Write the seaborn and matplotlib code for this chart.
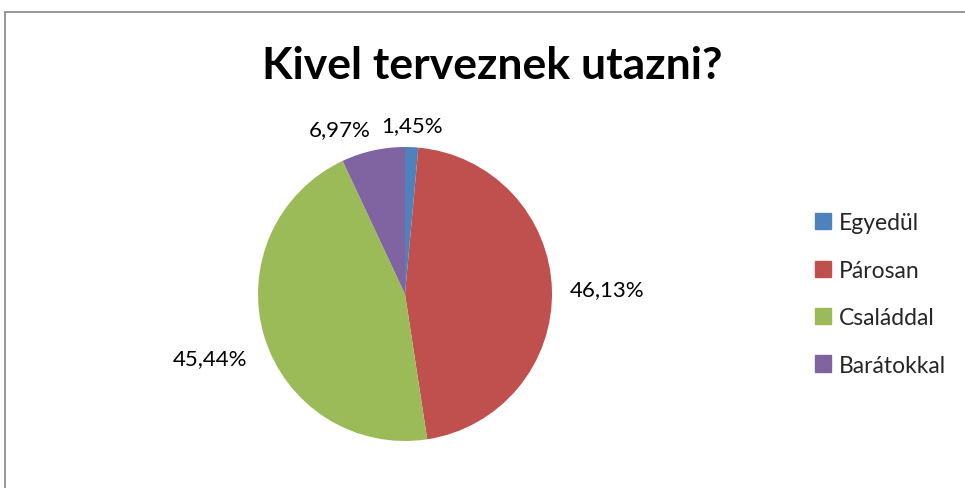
import numpy as np
import matplotlib
matplotlib.use("Agg")
import matplotlib.pyplot as plt
from matplotlib.lines import Line2D
import seaborn as sns

# adatok
categories = ['Egyedül', 'Párosan', 'Családdal', 'Barátokkal']
shares = [1.45, 46.13, 45.44, 6.97]
pct_labels = ['1,45%', '46,13%', '45,44%', '6,97%']
title = 'Kivel terveznek utazni?'

sns.set_theme(style='white')
plt.rcParams['font.family'] = ['Lato', 'DejaVu Sans']
colors = sns.color_palette(['#4F81BD', '#C0504D', '#9BBB59', '#8064A2'])

W, H = 965, 489
fig = plt.figure(figsize=(W / 100, H / 100), dpi=100)
fig.patch.set_facecolor('white')

# keret (csak bal és felső él látszik)
x0, y0 = 4.5 / W, 1 - 12.5 / H
fig.add_artist(Line2D([x0, 1.01], [y0, y0], transform=fig.transFigure, color='#868686', lw=1.2))
fig.add_artist(Line2D([x0, x0], [y0, -0.01], transform=fig.transFigure, color='#868686', lw=1.2))

# kördiagram
cx, cy, r = 405, 295, 147
ax = fig.add_axes([(cx - r) / W, (H - cy - r) / H, 2 * r / W, 2 * r / H])
wedges, _ = ax.pie(shares, colors=colors, startangle=90, counterclock=False,
                   radius=1, wedgeprops=dict(linewidth=0))
ax.set_xlim(-1, 1)
ax.set_ylim(-1, 1)
ax.set_aspect('equal')
ax.axis('off')

for w, lab in zip(wedges, pct_labels):
    mid = np.deg2rad((w.theta1 + w.theta2) / 2)
    c, s = np.cos(mid), np.sin(mid)
    d = 1.12
    if abs(c) < 0.1:
        ha = 'center'
    else:
        ha = 'left' if c > 0 else 'right'
    if s > 0.8:
        va = 'bottom'
        d = 1.08
    elif s < -0.8:
        va = 'top'
    else:
        va = 'center'
    if s < -0.2 and abs(c) > 0.5:
        s -= 0.1
    ax.text(d * c, d * s, lab, ha=ha, va=va, fontsize=16, color='black', clip_on=False)

fig.text(492 / W, 1 - 66 / H, title, ha='center', va='center',
         fontsize=32, fontweight='bold', color='black')

handles = [plt.Rectangle((0, 0), 1, 1, color=col) for col in colors]
fig.legend(handles, categories, loc='center left', bbox_to_anchor=(806 / W, 1 - 295 / H),
           frameon=False, fontsize=16.5, handlelength=0.7, handleheight=0.7,
           handletextpad=0.35, labelspacing=1.15, borderaxespad=0)

fig.savefig('out.png', dpi=100, facecolor='white')
